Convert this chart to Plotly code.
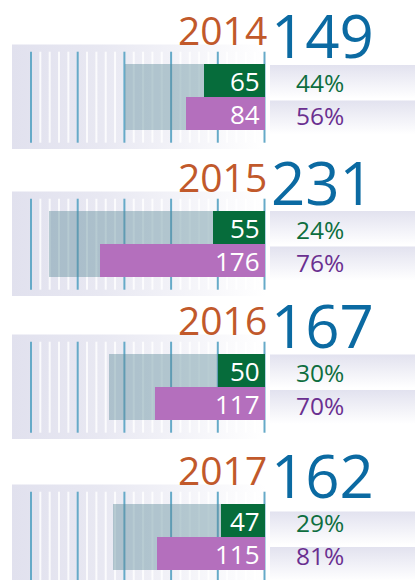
import plotly.graph_objects as go

# --- data -------------------------------------------------------------
years = ["2014", "2015", "2016", "2017"]
totals = [149, 231, 167, 162]
group_a = [65, 55, 50, 47]
group_b = [84, 176, 117, 115]
share_a = ["44%", "24%", "30%", "29%"]
share_b = ["56%", "76%", "70%", "81%"]
major_ticks = [0, 50, 100, 150, 200, 250]
minor_ticks = [v for v in range(10, 250, 10) if v % 50]

# --- layout constants (pixels) ---------------------------------------
W, H = 415, 580
PX_PER_UNIT = 0.934
ZERO_PX = 264.5
ROW_TOPS = [64, 211, 354, 504]
ROW_H = 32.8
BOX_SHIFT = [1, 0, 0.5, 7.5]
FONT = "Open Sans"

GREEN = "#066c3b"
PURPLE = "#b46fbd"
GREEN_TXT = "#0d6e3f"
PURPLE_TXT = "#6a2f90"
YEAR_CLR = "#c1592b"
TOTAL_CLR = "#0b6aa2"
GRID_CLR = "#66aac8"
LAVENDER = "#e1e1ee"


def ux(px):
    """pixel column -> value units (value axis runs right to left)"""
    return (ZERO_PX - px) / PX_PER_UNIT


X_RANGE = [ux(0), ux(W)]
Y_RANGE = [H, 0]

fig = go.Figure()

# panel backgrounds with a left-to-right fade
for t in ROW_TOPS:
    y0, y1 = t - 19.5, t + 85
    fig.add_trace(go.Scatter(
        x=[ux(12), ux(266), ux(266), ux(12), ux(12)],
        y=[y0, y0, y1, y1, y0],
        mode="lines", line=dict(width=0), fill="toself",
        fillgradient=dict(type="horizontal",
                          colorscale=[[0, LAVENDER], [0.35, "#e8e8f2"], [1, "#ffffff"]]),
        hoverinfo="skip", showlegend=False))

# percentage boxes with a top-to-bottom fade
for t, s in zip(ROW_TOPS, BOX_SHIFT):
    for r0, r1 in ((t + s, t + s + 33.5), (t + s + 35.5, t + s + 69.5)):
        fig.add_trace(go.Scatter(
            x=[ux(270), ux(W + 2), ux(W + 2), ux(270), ux(270)],
            y=[r0, r0, r1, r1, r0],
            mode="lines", line=dict(width=0), fill="toself",
            fillgradient=dict(type="vertical",
                              colorscale=[[0, "#ffffff"], [1, "#e2e2ef"]]),
            hoverinfo="skip", showlegend=False))

# grid: faint white minor lines and blue major lines
for ticks, color, width in ((minor_ticks, "rgba(255,255,255,0.8)", 2),
                            (major_ticks, GRID_CLR, 2)):
    xs, ys = [], []
    for t in ROW_TOPS:
        for v in ticks:
            xs += [v, v, None]
            ys += [t - 12.3, t + 78.7, None]
    fig.add_trace(go.Scatter(x=xs, y=ys, mode="lines",
                             line=dict(color=color, width=width),
                             hoverinfo="skip", showlegend=False))

# bars live on an overlaying subplot so they sit above the backdrop
centre_a = [t + ROW_H / 2 for t in ROW_TOPS]
centre_b = [t + ROW_H * 1.5 for t in ROW_TOPS]
centre_tot = [t + ROW_H for t in ROW_TOPS]

fig.add_trace(go.Bar(x=totals, y=centre_tot, base=0, orientation="h",
                     width=2 * ROW_H, marker=dict(color="rgba(88,136,149,0.42)", line=dict(width=0)),
                     xaxis="x2", yaxis="y2", hoverinfo="skip", showlegend=False))
fig.add_trace(go.Bar(x=group_a, y=centre_a, base=0, orientation="h",
                     width=ROW_H, marker=dict(color=GREEN, line=dict(width=0)),
                     xaxis="x2", yaxis="y2", hoverinfo="skip", showlegend=False))
fig.add_trace(go.Bar(x=group_b, y=centre_b, base=0, orientation="h",
                     width=ROW_H, marker=dict(color=PURPLE, line=dict(width=0)),
                     xaxis="x2", yaxis="y2", hoverinfo="skip", showlegend=False))

ann = []
for i, t in enumerate(ROW_TOPS):
    ann.append(dict(text=years[i], xref="paper", x=269 / W, xanchor="right",
                    yref="y", y=t - 35, yanchor="middle", height=34, valign="middle",
                    font=dict(family=FONT, size=39, color=YEAR_CLR)))
    ann.append(dict(text=str(totals[i]), xref="paper", x=269 / W, xanchor="left",
                    yref="y", y=t - 29, yanchor="middle", height=52, valign="middle",
                    font=dict(family=FONT, size=60, color=TOTAL_CLR)))
    ann.append(dict(text=str(group_a[i]), xref="x2", x=0, xanchor="right", xshift=-3,
                    yref="y2", y=centre_a[i] + 1, yanchor="middle",
                    font=dict(family=FONT, size=26, color="white")))
    ann.append(dict(text=str(group_b[i]), xref="x2", x=0, xanchor="right", xshift=-3,
                    yref="y2", y=centre_b[i] + 1, yanchor="middle",
                    font=dict(family=FONT, size=26, color="white")))
    ann.append(dict(text=share_a[i], xref="paper", x=294 / W, xanchor="left",
                    yref="y", y=t + 18.5, yanchor="middle",
                    font=dict(family=FONT, size=24.5, color=GREEN_TXT)))
    ann.append(dict(text=share_b[i], xref="paper", x=294 / W, xanchor="left",
                    yref="y", y=t + 51, yanchor="middle",
                    font=dict(family=FONT, size=24.5, color=PURPLE_TXT)))
for a in ann:
    a["showarrow"] = False

axis_off = dict(visible=False, showgrid=False, zeroline=False, fixedrange=True)
fig.update_layout(
    width=W, height=H,
    margin=dict(l=0, r=0, t=0, b=0, autoexpand=False),
    paper_bgcolor="white", plot_bgcolor="rgba(0,0,0,0)",
    barmode="overlay", bargap=0,
    xaxis=dict(range=X_RANGE, domain=[0, 1], **axis_off),
    yaxis=dict(range=Y_RANGE, domain=[0, 1], **axis_off),
    xaxis2=dict(range=X_RANGE, overlaying="x", **axis_off),
    yaxis2=dict(range=Y_RANGE, overlaying="y", **axis_off),
    annotations=ann,
    showlegend=False,
)

fig.write_html("out.html", config={"displayModeBar": False})
